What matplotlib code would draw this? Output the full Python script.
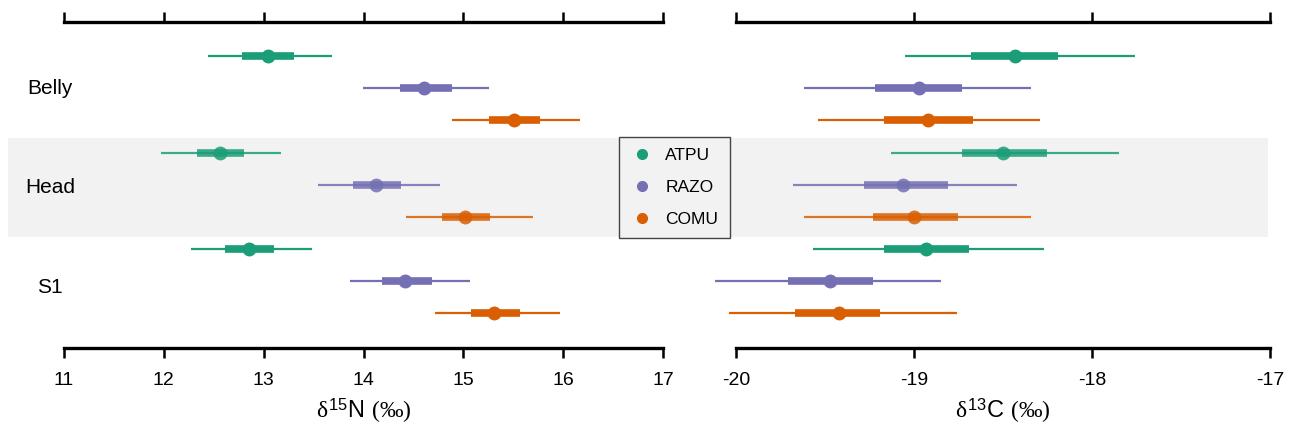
import numpy as np
import matplotlib.pyplot as plt
from matplotlib.lines import Line2D

plt.rcParams['font.family'] = ['Liberation Sans', 'DejaVu Sans']
plt.rcParams['axes.unicode_minus'] = False
plt.rcParams['mathtext.fontset'] = 'custom'
plt.rcParams['mathtext.rm'] = 'Liberation Serif'
plt.rcParams['mathtext.it'] = 'Liberation Serif'
plt.rcParams['mathtext.sf'] = 'Liberation Sans'

# ---- data ------------------------------------------------------------
tissues = ["Belly", "Head", "S1"]
species = ["ATPU", "RAZO", "COMU"]
colors  = ["#1B9E77", "#7570B3", "#D95F02"]

# rows: Belly ATPU, RAZO, COMU, Head ATPU, RAZO, COMU, S1 ATPU, RAZO, COMU
n15_mid  = [13.04, 14.61, 15.51, 12.56, 14.12, 15.02, 12.85, 14.42, 15.31]
n15_lo95 = [12.44, 13.99, 14.89, 11.97, 13.54, 14.43, 12.27, 13.86, 14.72]
n15_hi95 = [13.68, 15.26, 16.17, 13.17, 14.77, 15.70, 13.48, 15.07, 15.97]
n15_lo50 = [12.78, 14.37, 15.26, 12.33, 13.89, 14.79, 12.61, 14.19, 15.08]
n15_hi50 = [13.30, 14.89, 15.77, 12.80, 14.38, 15.27, 13.10, 14.69, 15.57]

c13_mid  = [-18.43, -18.97, -18.92, -18.50, -19.06, -19.00, -18.93, -19.47, -19.42]
c13_lo95 = [-19.05, -19.62, -19.54, -19.13, -19.68, -19.62, -19.57, -20.12, -20.04]
c13_hi95 = [-17.76, -18.34, -18.29, -17.85, -18.42, -18.34, -18.27, -18.85, -18.76]
c13_lo50 = [-18.68, -19.22, -19.17, -18.73, -19.28, -19.23, -19.17, -19.71, -19.67]
c13_hi50 = [-18.19, -18.73, -18.67, -18.25, -18.81, -18.75, -18.69, -19.23, -19.19]

n15_ticks = [11, 12, 13, 14, 15, 16, 17]
c13_ticks = [-20, -19, -18, -17]
# ----------------------------------------------------------------------

fig = plt.figure(figsize=(12.96, 4.34), dpi=100)
ax1 = fig.add_axes([0.0494, 0.198, 0.4622, 0.7512])
ax2 = fig.add_axes([0.5679, 0.198, 0.4120, 0.7512])

rows = np.arange(9)


def draw_panel(ax, mid, lo95, hi95, lo50, hi50, ticks):
    for i in rows:
        c = colors[i % 3]
        a = 0.85 if i // 3 == 1 else 1.0
        ax.plot([lo95[i], hi95[i]], [i, i], color=c, lw=1.6, alpha=a,
                solid_capstyle='butt', zorder=3, clip_on=False)
        ax.plot([lo50[i], hi50[i]], [i, i], color=c, lw=5.5, alpha=a,
                solid_capstyle='butt', zorder=4, clip_on=False)
        ax.plot(mid[i], i, 'o', color=c, ms=10, alpha=a, mec='none',
                zorder=5, clip_on=False)
    ax.set_xlim(ticks[0], ticks[-1])
    ax.set_ylim(9.08, -1.06)
    ax.set_xticks(ticks)
    ax.set_yticks([])
    ax.patch.set_visible(False)
    for s in ["left", "right"]:
        ax.spines[s].set_visible(False)
    for s in ["top", "bottom"]:
        ax.spines[s].set_linewidth(2.4)
    ax.tick_params(axis='x', which='both', top=True, bottom=True,
                   labeltop=False, labelbottom=True, direction='out',
                   length=7.5, width=1.8, pad=10, labelsize=14)


draw_panel(ax1, n15_mid, n15_lo95, n15_hi95, n15_lo50, n15_hi50, n15_ticks)
draw_panel(ax2, c13_mid, c13_lo95, c13_hi95, c13_lo50, c13_hi50, c13_ticks)

# grey band behind the Head rows, across both panels
ax1.axhspan(2.55, 5.62, xmin=-0.094, xmax=2.01, color="#F2F2F2",
            clip_on=False, zorder=0, lw=0)

ax1.set_xlabel(r"$\delta^{\mathsf{15}}$N $(‰)$", fontsize=17, labelpad=5)
ax2.set_xlabel(r"$\delta^{\mathsf{13}}$C $(‰)$", fontsize=17, labelpad=5)

for g, name in enumerate(tissues):
    ax1.text(-0.023, 1 + 3.1 * g, name, transform=ax1.get_yaxis_transform(),
             ha='center', va='center', fontsize=15)

handles = [Line2D([], [], marker='o', ls='none', color=c, ms=8, mec='none')
           for c in colors]
leg = fig.legend(handles, species, loc='center',
                 bbox_to_anchor=(674.5 / 1296, 1 - 187.5 / 434),
                 fontsize=12.5, frameon=True, fancybox=False,
                 handletextpad=0.7, labelspacing=0.95, borderpad=0.65,
                 handlelength=1.3)
leg.get_frame().set_facecolor("#F2F2F2")
leg.get_frame().set_edgecolor("#444444")
leg.get_frame().set_linewidth(1.0)
leg.get_frame().set_alpha(1)

fig.savefig("out.png", dpi=100)
